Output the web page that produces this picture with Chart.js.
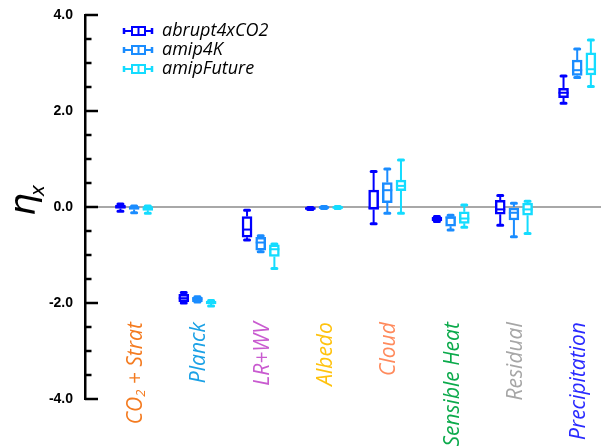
<!DOCTYPE html>
<html>
<head>
<meta charset="utf-8">
<script src="https://cdn.jsdelivr.net/npm/chart.js@4.4.1/dist/chart.umd.min.js"></script>
<style>
  html, body { margin: 0; padding: 0; background: #fff; }
  canvas { display: block; }
</style>
</head>
<body>
<canvas id="chart" width="601" height="447"></canvas>
<script>
// Categories and their label colours
const categories = ['CO2 + Strat', 'Planck', 'LR+WV', 'Albedo', 'Cloud', 'Sensible Heat', 'Residual', 'Precipitation'];
const categoryColors = ['#F47B20', '#1BA1E6', '#C95BD0', '#FFC20E', '#FF8A5C', '#0BAA4B', '#A6A6A6', '#2A2AFF'];

// Series names
const seriesNames = ['abrupt4xCO2', 'amip4K', 'amipFuture'];
const seriesColors = ['#0000FF', '#1A8CFF', '#14DCFF'];

// abrupt4xCO2 box stats
const abruptMin = [-0.09, -2.00, -0.69, -0.05, -0.35, -0.30, -0.38, 2.16];
const abruptQ1  = [-0.03, -1.97, -0.63, -0.05, -0.05, -0.29, -0.15, 2.28];
const abruptMed = [ 0.00, -1.90, -0.47, -0.03, -0.02, -0.25, -0.05, 2.38];
const abruptQ3  = [ 0.04, -1.82, -0.20, -0.01,  0.35, -0.21,  0.14, 2.47];
const abruptMax = [ 0.06, -1.78, -0.07, -0.01,  0.74, -0.20,  0.24, 2.73];

// amip4K box stats
const amip4KMin = [-0.12, -1.98, -0.93, -0.03, -0.13, -0.48, -0.62, 2.70];
const amip4KQ1  = [-0.05, -1.97, -0.90, -0.03,  0.09, -0.40, -0.27, 2.74];
const amip4KMed = [-0.02, -1.92, -0.74, -0.01,  0.35, -0.22, -0.12, 2.85];
const amip4KQ3  = [ 0.01, -1.88, -0.63,  0.01,  0.51, -0.20,  0.00, 3.06];
const amip4KMax = [ 0.02, -1.87, -0.60,  0.01,  0.79, -0.17,  0.08, 3.29];

// amipFuture box stats
const futureMin = [-0.13, -2.06, -1.28, -0.03, -0.13, -0.42, -0.55, 2.51];
const futureQ1  = [-0.07, -2.02, -1.03, -0.03,  0.34, -0.34, -0.17, 2.75];
const futureMed = [-0.03, -1.99, -0.88, -0.01,  0.44, -0.24, -0.05, 2.87];
const futureQ3  = [ 0.01, -1.96, -0.79,  0.01,  0.56, -0.10,  0.08, 3.21];
const futureMax = [ 0.02, -1.95, -0.77,  0.01,  0.98,  0.04,  0.12, 3.48];

// y axis tick labels
const yTicks = [-4, -2, 0, 2, 4];

const stats = [
    { min: abruptMin, q1: abruptQ1, med: abruptMed, q3: abruptQ3, max: abruptMax },
    { min: amip4KMin, q1: amip4KQ1, med: amip4KMed, q3: amip4KQ3, max: amip4KMax },
    { min: futureMin, q1: futureQ1, med: futureMed, q3: futureQ3, max: futureMax }
];
const groupOffset = 0.216;

const datasets = seriesNames.map((name, s) => ({
    label: name,
    data: categories.map((c, i) => ({ x: i + (s - 1) * groupOffset, y: [stats[s].q1[i], stats[s].q3[i]] })),
    backgroundColor: '#ffffff',
    borderColor: seriesColors[s],
    borderWidth: 2.5,
    borderSkipped: false,
    barThickness: 10,
    grouped: false
}));

const labelSize = 21;

// whiskers, medians, minor ticks, labels and legend
const boxExtras = {
    id: 'boxExtras',
    afterDatasetsDraw(chart) {
        const ctx = chart.ctx;
        const xs = chart.scales.x, ys = chart.scales.y;
        ctx.save();
        chart.data.datasets.forEach((ds, s) => {
            const st = stats[s];
            ctx.strokeStyle = seriesColors[s];
            ds.data.forEach((d, i) => {
                const x = xs.getPixelForValue(d.x);
                const yMin = ys.getPixelForValue(st.min[i]);
                const yQ1 = ys.getPixelForValue(st.q1[i]);
                const yQ3 = ys.getPixelForValue(st.q3[i]);
                const yMax = ys.getPixelForValue(st.max[i]);
                const yMed = ys.getPixelForValue(st.med[i]);
                ctx.lineWidth = 2;
                ctx.lineCap = 'butt';
                ctx.beginPath();
                ctx.moveTo(x, yQ3); ctx.lineTo(x, yMax);
                ctx.moveTo(x, yQ1); ctx.lineTo(x, yMin);
                ctx.stroke();
                ctx.lineWidth = 3;
                ctx.lineCap = 'round';
                ctx.beginPath();
                ctx.moveTo(x - 2.5, yMax); ctx.lineTo(x + 2.5, yMax);
                ctx.moveTo(x - 2.5, yMin); ctx.lineTo(x + 2.5, yMin);
                ctx.stroke();
                ctx.lineWidth = 2;
                ctx.lineCap = 'butt';
                ctx.beginPath();
                ctx.moveTo(x - 5, yMed); ctx.lineTo(x + 5, yMed);
                ctx.stroke();
            });
        });
        ctx.restore();
    },
    afterDraw(chart) {
        const ctx = chart.ctx;
        const xs = chart.scales.x, ys = chart.scales.y;
        const left = chart.chartArea.left;
        ctx.save();

        // y axis ticks pointing inwards
        ctx.strokeStyle = '#000';
        ctx.lineWidth = 2.5;
        for (let v = -4; v <= 4; v += 0.5) {
            const y = Math.round(ys.getPixelForValue(v));
            const len = v % 2 === 0 ? 13 : 6.5;
            ctx.beginPath();
            ctx.moveTo(left, y); ctx.lineTo(left + len, y);
            ctx.stroke();
        }

        // y axis title: eta with subscript x
        ctx.fillStyle = '#000';
        ctx.translate(35, 216);
        ctx.rotate(-Math.PI / 2);
        ctx.font = 'italic 36px "DejaVu Sans"';
        ctx.textAlign = 'left';
        ctx.textBaseline = 'alphabetic';
        ctx.fillText('\u03B7', 0, 0);
        const etaW = ctx.measureText('\u03B7').width;
        ctx.font = 'italic 19px "DejaVu Sans"';
        ctx.fillText('x', etaW - 3, 9);
        ctx.setTransform(1, 0, 0, 1, 0, 0);

        // rotated category labels inside the plot
        const labelTop = ys.getPixelForValue(-2.4);
        categories.forEach((name, i) => {
            ctx.save();
            ctx.translate(xs.getPixelForValue(i) + 2, labelTop);
            ctx.rotate(-Math.PI / 2);
            ctx.fillStyle = categoryColors[i];
            ctx.textBaseline = 'middle';
            ctx.textAlign = 'left';
            let parts;
            if (name === 'CO2 + Strat') {
                parts = [['CO', labelSize, 0], ['2', 13, 5], [' + Strat', labelSize, 0]];
            } else {
                parts = [[name, labelSize, 0]];
            }
            let total = 0;
            parts.forEach(p => { ctx.font = 'italic ' + p[1] + 'px "Open Sans"'; total += ctx.measureText(p[0]).width; });
            let pos = -total;
            parts.forEach(p => {
                ctx.font = 'italic ' + p[1] + 'px "Open Sans"';
                ctx.fillText(p[0], pos, p[2]);
                pos += ctx.measureText(p[0]).width;
            });
            ctx.restore();
        });

        // legend
        seriesNames.forEach((name, s) => {
            const y = 31 + s * 19;
            ctx.strokeStyle = seriesColors[s];
            ctx.lineWidth = 2;
            ctx.beginPath();
            ctx.moveTo(124, y); ctx.lineTo(152, y);
            ctx.stroke();
            ctx.lineWidth = 2.5;
            ctx.beginPath();
            ctx.moveTo(124, y - 3); ctx.lineTo(124, y + 3);
            ctx.moveTo(152, y - 3); ctx.lineTo(152, y + 3);
            ctx.stroke();
            ctx.fillStyle = '#fff';
            ctx.fillRect(132, y - 4, 13, 8);
            ctx.lineWidth = 2;
            ctx.strokeRect(132, y - 4, 13, 8);
            ctx.beginPath();
            ctx.moveTo(138.5, y - 4); ctx.lineTo(138.5, y + 4);
            ctx.stroke();
            ctx.fillStyle = '#000';
            ctx.font = 'italic 18px "Open Sans"';
            ctx.textAlign = 'left';
            ctx.textBaseline = 'middle';
            ctx.fillText(name, 162, y);
        });
        ctx.restore();
    }
};

const chart = new Chart(document.getElementById('chart').getContext('2d'), {
    type: 'bar',
    data: { datasets: datasets },
    options: {
        responsive: false,
        animation: false,
        layout: { padding: { top: 15, bottom: 48, left: 0, right: 0 } },
        plugins: {
            legend: { display: false },
            tooltip: { enabled: false }
        },
        scales: {
            x: {
                type: 'linear',
                display: false,
                offset: false,
                min: -0.776,
                max: 7.376
            },
            y: {
                min: -4,
                max: 4,
                afterFit(scale) {
                    scale.width = 85;
                    scale.paddingTop = 0;
                    scale.paddingBottom = 0;
                },
                afterBuildTicks(scale) { scale.ticks = yTicks.map(v => ({ value: v })); },
                border: { display: true, color: '#000', width: 2.5 },
                grid: {
                    drawTicks: false,
                    lineWidth: 2,
                    color: (c) => (c.tick && c.tick.value === 0 ? '#a8a8a8' : 'rgba(0,0,0,0)')
                },
                ticks: {
                    padding: 12,
                    color: '#000',
                    font: { family: '"Liberation Sans"', size: 14, weight: 'bold' },
                    callback: (v) => v.toFixed(1)
                }
            }
        }
    },
    plugins: [boxExtras]
});
</script>
</body>
</html>
